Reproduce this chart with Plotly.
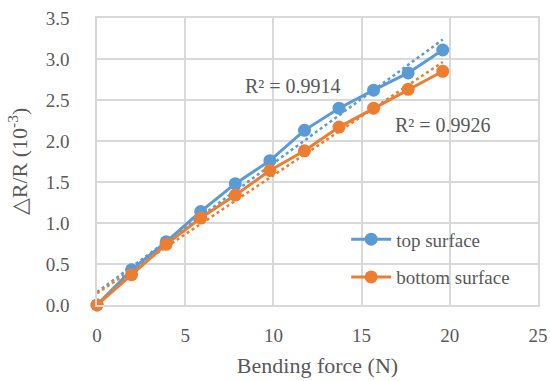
import numpy as np
import plotly.graph_objects as go

force = [0, 1.96, 3.92, 5.88, 7.84, 9.8, 11.76, 13.72, 15.68, 17.64, 19.6]
top_surface = [0, 0.43, 0.77, 1.14, 1.48, 1.76, 2.13, 2.40, 2.62, 2.83, 3.11]
bottom_surface = [0, 0.37, 0.74, 1.06, 1.34, 1.64, 1.88, 2.17, 2.40, 2.63, 2.85]
r2_labels = ["R² = 0.9914", "R² = 0.9926"]

BLUE = "#5B9BD5"
ORANGE = "#ED7D31"
FONT = "Liberation Serif"
GRAY = "#595959"

fig = go.Figure()

x = np.array(force)
for ys, col in [(top_surface, BLUE), (bottom_surface, ORANGE)]:
    k, b = np.polyfit(x, np.array(ys), 1)
    xs = [x.min(), x.max()]
    fig.add_trace(go.Scatter(x=xs, y=[k * v + b for v in xs], mode="lines",
                             line=dict(color=col, width=2.5, dash="dot"),
                             showlegend=False, hoverinfo="skip"))

fig.add_trace(go.Scatter(x=force, y=top_surface, mode="lines+markers", name="top surface",
                         legendgroup="a", cliponaxis=False,
                         line=dict(color=BLUE, width=3), marker=dict(color=BLUE, size=13)))
fig.add_trace(go.Scatter(x=force, y=bottom_surface, mode="lines+markers", name="bottom surface",
                         legendgroup="b", cliponaxis=False,
                         line=dict(color=ORANGE, width=3), marker=dict(color=ORANGE, size=13)))

fig.add_annotation(x=8.3, y=2.67, text=r2_labels[0], showarrow=False, xref="x", yref="y",
                   xanchor="left", font=dict(family=FONT, size=20, color=GRAY))
fig.add_annotation(x=16.8, y=2.20, text=r2_labels[1], showarrow=False, xref="x", yref="y",
                   xanchor="left", font=dict(family=FONT, size=20, color=GRAY))

fig.update_layout(
    width=550, height=381,
    margin=dict(l=97, r=12, t=18, b=76),
    paper_bgcolor="white", plot_bgcolor="white",
    font=dict(family=FONT, color=GRAY, size=19),
    legend=dict(x=0.565, y=0.295, xanchor="left", yanchor="top", bgcolor="rgba(255,255,255,0)",
                font=dict(family=FONT, size=19, color=GRAY), itemwidth=40,
                traceorder="grouped", tracegroupgap=10),
)
fig.update_xaxes(range=[0, 25], dtick=5, showgrid=True, gridcolor="#D9D9D9", gridwidth=1.5,
                 zeroline=False, showline=True, linecolor="#D9D9D9", linewidth=1.5, mirror=True,
                 automargin=False,
                 ticks="", ticklabelstandoff=12, tickfont=dict(family=FONT, size=19, color=GRAY),
                 title=dict(text="Bending force (N)", font=dict(family=FONT, size=22, color=GRAY), standoff=13))
fig.update_yaxes(range=[0, 3.5], dtick=0.5, tickformat=".1f", showgrid=True, gridcolor="#D9D9D9",
                 gridwidth=1.5, zeroline=False, showline=True, linecolor="#D9D9D9", linewidth=1.5,
                 mirror=True, automargin=False,
                 ticks="", ticklabelstandoff=22, tickfont=dict(family=FONT, size=19, color=GRAY),
                 title=dict(text="△R/R (10<sup>-3</sup>)", font=dict(family=FONT, size=22, color=GRAY), standoff=12))

fig.write_html("out.html")
